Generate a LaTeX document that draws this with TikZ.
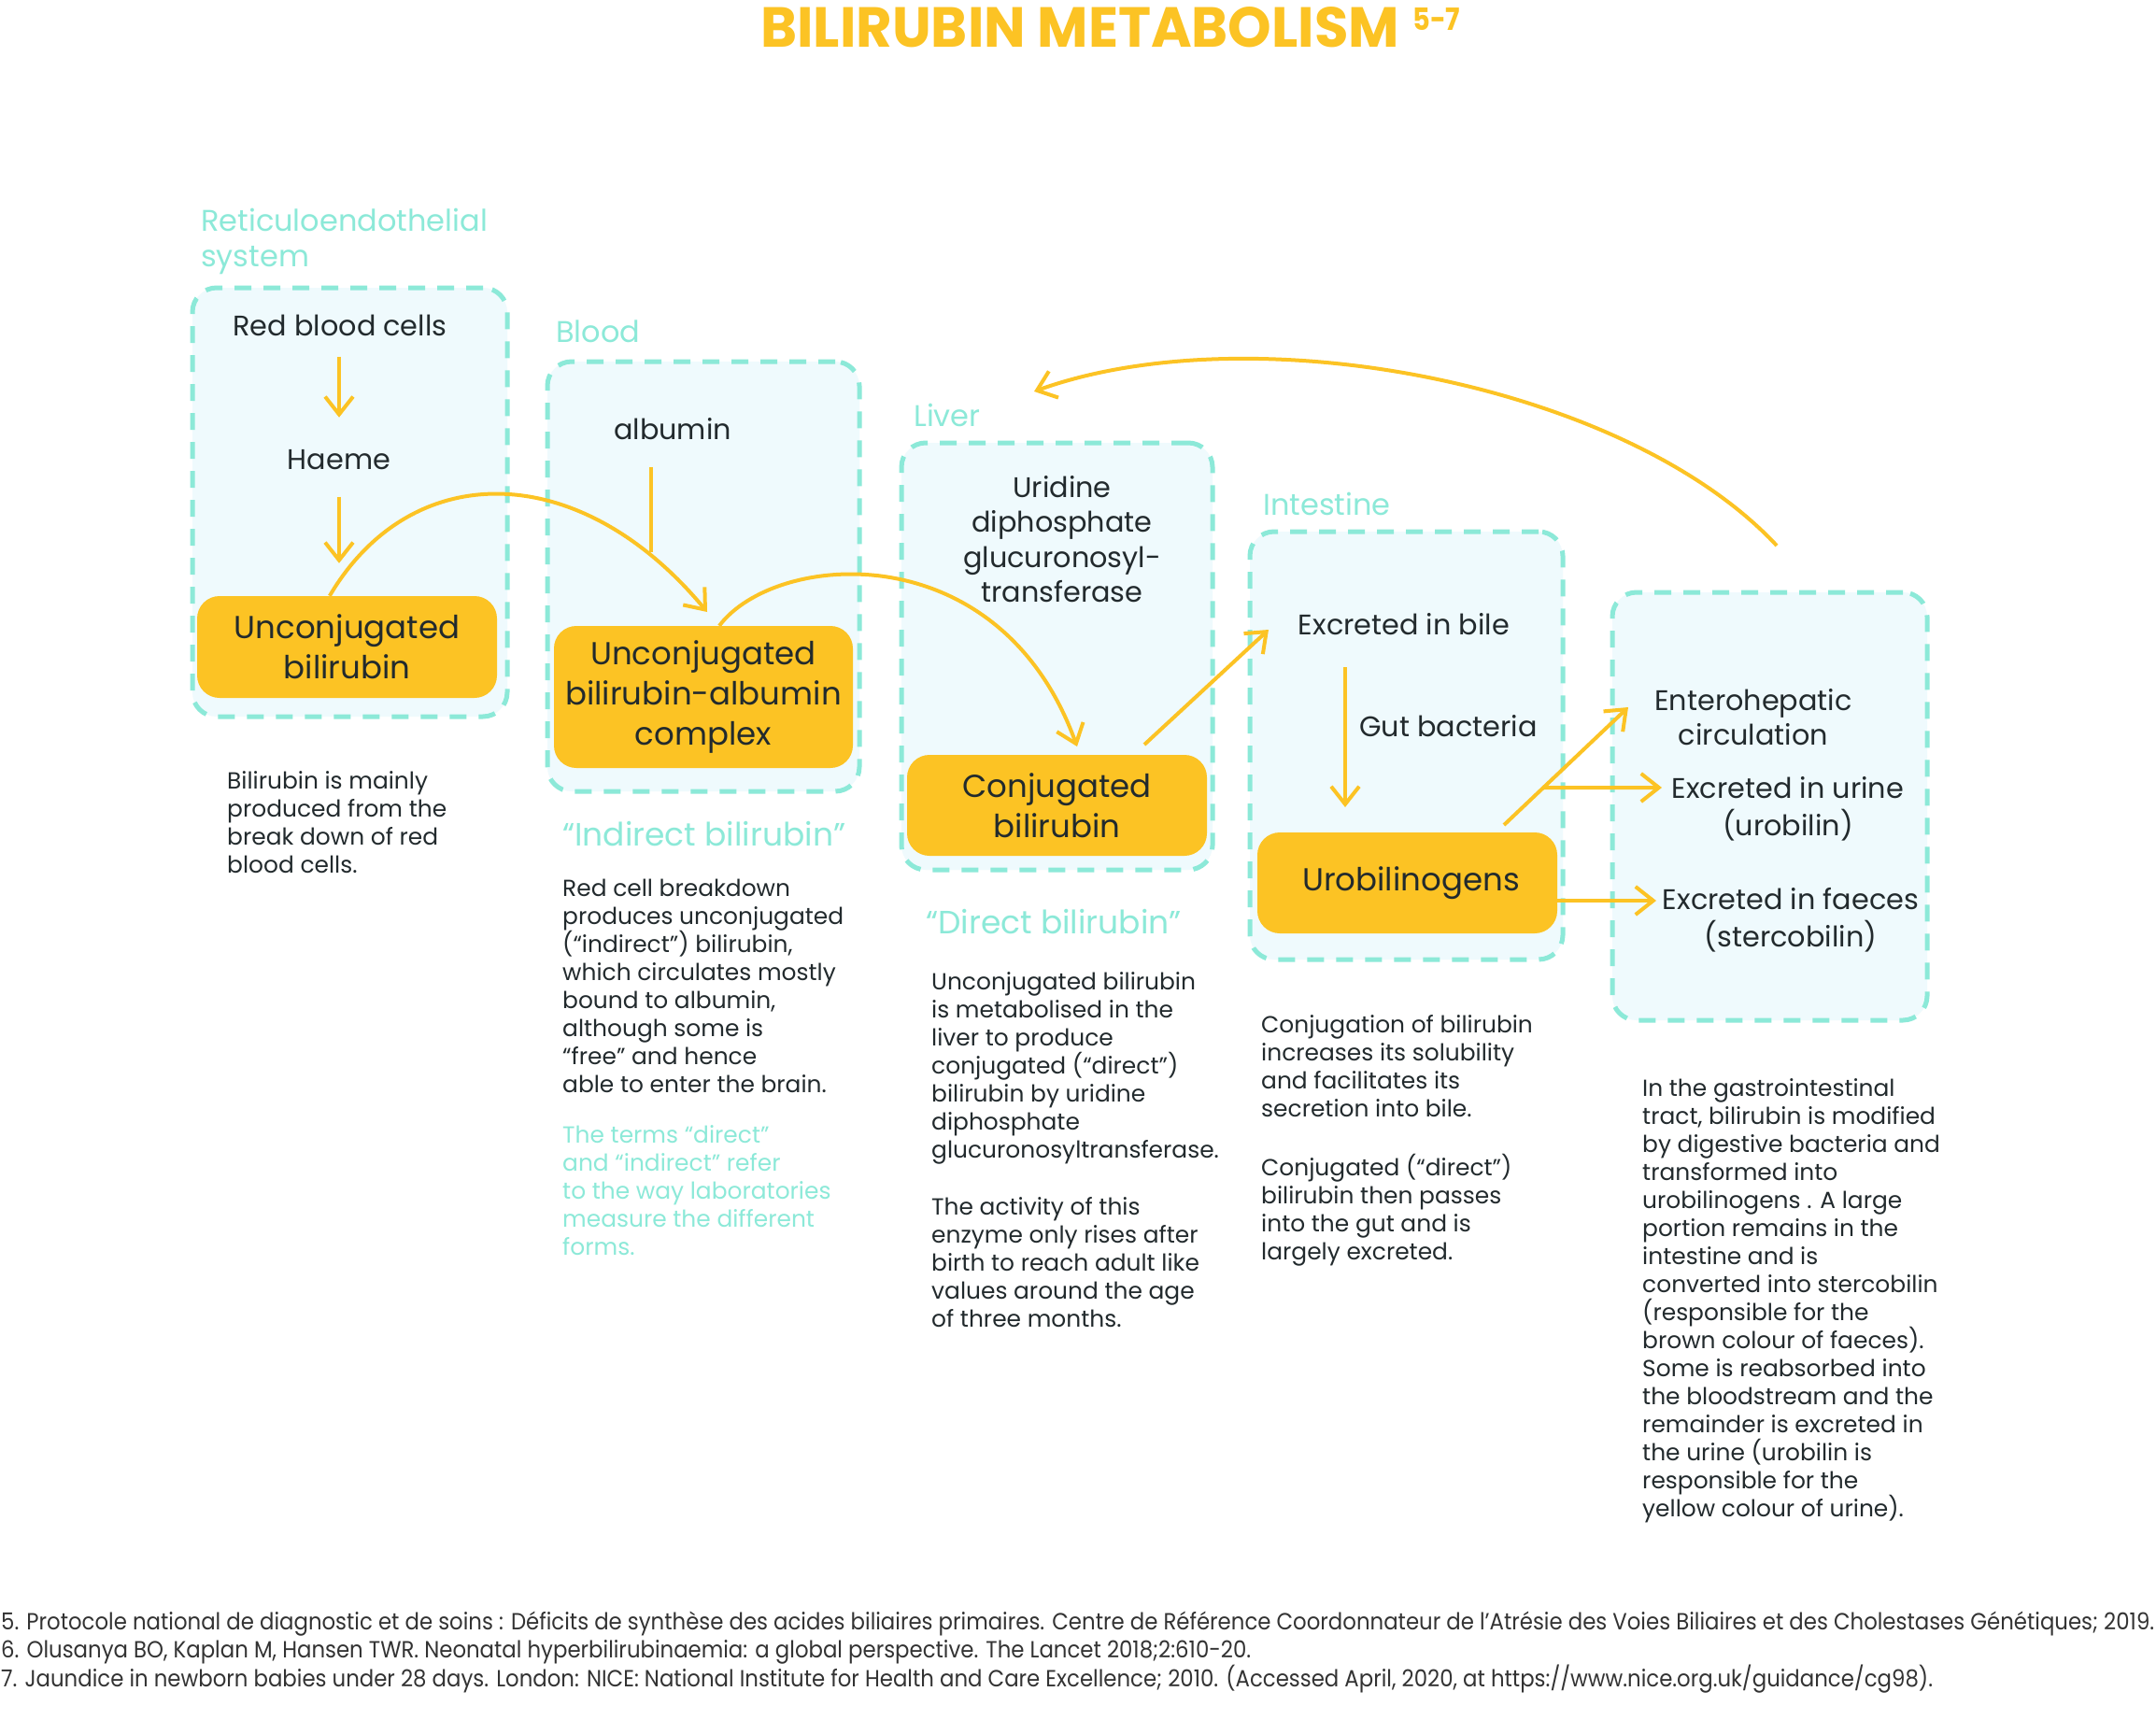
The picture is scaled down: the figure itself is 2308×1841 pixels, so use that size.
\documentclass[tikz,border=0pt]{standalone}
\usepackage{graphicx}
\usepackage{fontspec}
\setmainfont{Poppins}
\usetikzlibrary{arrows.meta,calc}
\definecolor{yel}{HTML}{FCC324}
\definecolor{tealc}{HTML}{8CE9D8}
\definecolor{zonefill}{HTML}{EFFAFD}
\definecolor{ink}{HTML}{222A2D}
\definecolor{fng}{HTML}{333333}
\newcommand\bodyfont{\fontsize{24.9}{30}\selectfont}
\newcommand\inboxfont{\fontsize{30.3}{37.5}\selectfont}
\newcommand\ybfont{\fontsize{34}{43}\selectfont}
\newcommand\lblfont{\fontsize{32}{38}\selectfont}
\newcommand\qfont{\fontsize{34.5}{40}\selectfont}
\newcommand\fnfont{\fontsize{25}{30}\selectfont}
\newcommand\fnfive{5. Protocole national de diagnostic et de soins : Déficits de synthèse des acides biliaires primaires. Centre de Référence Coordonnateur de l’Atrésie des Voies Biliaires et des Cholestases Génétiques; 2019.}
\newsavebox\fnbox
\newlength\fnL
\AtBeginDocument{%
  \sbox\fnbox{\fnfont\fnfive}%
  \setlength\fnL{\wd\fnbox}%
  \pgfmathsetmacro\fnsc{2305pt/\fnL}%
}
\tikzset{
  zone/.style={draw=tealc, line width=5pt, dash pattern=on 18pt off 13pt, fill=zonefill, rounded corners=26pt, inner sep=0pt},
  ybox/.style={fill=yel, rounded corners=24pt, align=center, font=\ybfont, text=ink, inner sep=0pt},
  intext/.style={align=center, font=\inboxfont, text=ink, inner sep=0pt, anchor=north},
  body/.style={align=left, font=\bodyfont, text=ink, inner sep=0pt, anchor=north west},
  lbl/.style={font=\lblfont, text=tealc, inner sep=0pt, anchor=base west},
  quot/.style={font=\qfont, text=tealc, inner sep=0pt, anchor=base west},
  fn/.style={font=\fnfont, text=fng, inner sep=0pt, anchor=base west},
  conn/.style={draw=yel, line width=4pt},
  arr/.style={conn, -{Straight Barb[length=19pt,width=30pt]}},
}
\begin{document}
\begin{tikzpicture}[x=1pt,y=-1pt]
\useasboundingbox[fill=white] (0,0) rectangle (2308,1841);

% title
\node[anchor=base west, inner sep=0pt, text=yel, font=\bfseries] (title) at (814,51) {\resizebox{684pt}{43pt}{BILIRUBIN METABOLISM}};
\node[anchor=base west, inner sep=0pt, text=yel, font=\bfseries] (titlesup) at (1512,33) {\resizebox{51pt}{24pt}{5-7}};

% zones
\node[zone, minimum width=337pt, minimum height=459pt] (z1) at (374.5,537.5) {};
\node[zone, minimum width=334pt, minimum height=460pt] (z2) at (753,617) {};
\node[zone, minimum width=333pt, minimum height=457pt] (z3) at (1131.5,702.5) {};
\node[zone, minimum width=335pt, minimum height=458pt] (z4) at (1505.5,798) {};
\node[zone, minimum width=337pt, minimum height=458pt] (z5) at (1894.5,863) {};

% zone labels
\node[lbl, anchor=north west, align=left] (l1) at (215,220.4) {\strut Reticuloendothelial\\system};
\node[lbl] (l2) at (595,366) {Blood};
\node[lbl] (l3) at (978,456) {Liver};
\node[lbl] (l4) at (1352,551) {Intestine};

% yellow boxes
\node[ybox, minimum width=321pt, minimum height=109pt] (y1) at (371.5,692.5) {Unconjugated\\bilirubin};
\node[ybox, minimum width=320pt, minimum height=152pt] (y2) at (753,746) {Unconjugated\\bilirubin-albumin\\complex};
\node[ybox, minimum width=321pt, minimum height=108pt] (y3) at (1131.5,862) {Conjugated\\bilirubin};
\node[ybox, minimum width=321pt, minimum height=108pt] (y4) at (1506.5,945) {\hspace*{8pt}Urobilinogens};

% texts inside zones
\node[intext] (rbc) at (364,332.75) {\strut Red blood cells};
\node[intext] (haeme) at (363,475.75) {\strut Haeme};
\node[intext] (albumin) at (720,443.75) {\strut albumin};
\node[intext] (udp) at (1137,505.75) {\strut Uridine\\diphosphate\\glucuronosyl-\\transferase};
\node[intext] (bile) at (1503,652.75) {\strut Excreted in bile};
\node[intext, anchor=north west] (gut) at (1455,761.75) {\strut Gut bacteria};
\node[intext] (ent) at (1877,733.75) {\strut Enterohepatic\\circulation};
\node[intext] (urine) at (1914,827.75) {\strut Excreted in urine\\(urobilin)};
\node[intext] (faeces) at (1917,946.75) {\strut Excreted in faeces\\(stercobilin)};

% coordinates for connector ends
\coordinate (c1s) at ($(y1.north west)!0.442!(y1.north east)$);
\coordinate (c1e) at (757,655);
\coordinate (c2s) at ($(y2.north west)!0.553!(y2.north east)$);
\coordinate (c2e) at (1153,799);
\coordinate (c3s) at (1902,584);
\coordinate (c3e) at (1107,419);
\coordinate (alb) at (697,591);
\coordinate (s1s) at (1225,797);
\coordinate (s1e) at (1358,674);
\coordinate (s2s) at (1440,714);
\coordinate (s2e) at (1440,864);
\coordinate (s3s) at (1610,883);
\coordinate (s3e) at (1743,757);
\coordinate (s4s) at ($(s3s)!0.317!(s3e)$);
\coordinate (s4e) at (1779,843);
\coordinate (s5s) at (1667,964);
\coordinate (s5e) at (1773,964);

% connectors
\draw[arr, shorten <=11pt, shorten >=29pt] (rbc.south -| haeme.north) -- (haeme.north);
\draw[arr, shorten <=18pt, shorten >=35pt] (haeme.south) -- (haeme.south |- y1.north);
\draw[conn] (albumin.south -| alb) ++(0,18) -- (alb);
\draw[arr] (c1s) .. controls (440,490) and (620,490) .. (c1e);
\draw[arr] (c2s) .. controls (830,590) and (1070,570) .. (c2e);
\draw[arr] (c3s) .. controls (1740,410) and (1340,335) .. (c3e);
\draw[arr] (s1s) -- (s1e);
\draw[arr] (s2s) -- (s2e);
\draw[arr] (s3s) -- (s3e);
\draw[arr] (s4s) -- (s4e);
\draw[arr] (s5s) -- (s5e);

% quoted labels
\node[quot] (qind) at (602,905) {“Indirect bilirubin”};
\node[quot] (qdir) at (991,999) {“Direct bilirubin”};

% body texts
\node[body] (b1) at (243,823) {\strut Bilirubin is mainly\\produced from the\\break down of red\\blood cells.};
\node[body] (b2) at (602,938) {\strut Red cell breakdown\\produces unconjugated\\(“indirect”) bilirubin,\\which circulates mostly\\bound to albumin,\\although some is\\“free” and hence\\able to enter the brain.};
\node[body, text=tealc] (b2t) at (602,1202) {\strut The terms “direct”\\and “indirect” refer\\to the way laboratories\\measure the different\\forms.};
\node[body] (b3) at (997,1038) {\strut Unconjugated bilirubin\\is metabolised in the\\liver to produce\\conjugated (“direct”)\\bilirubin by uridine\\diphosphate\\glucuronosyltransferase.};
\node[body] (b3b) at (997,1279) {\strut The activity of this\\enzyme only rises after\\birth to reach adult like\\values around the age\\of three months.};
\node[body] (b4) at (1350,1084) {\strut Conjugation of bilirubin\\increases its solubility\\and facilitates its\\secretion into bile.};
\node[body] (b4b) at (1350,1235) {\strut Conjugated (“direct”)\\bilirubin then passes\\into the gut and is\\largely excreted.};
\node[body] (b5) at (1758,1152) {\strut In the gastrointestinal\\tract, bilirubin is modified\\by digestive bacteria and\\transformed into\\urobilinogens . A large\\portion remains in the\\intestine and is\\converted into stercobilin\\(responsible for the\\brown colour of faeces).\\Some is reabsorbed into\\the bloodstream and the\\remainder is excreted in\\the urine (urobilin is\\responsible for the\\yellow colour of urine).};

% footnotes
\node[fn] (f5) at (1,1744) {\scalebox{\fnsc}[1]{\fnfive}};
\node[fn] (f6) at (1,1774) {\scalebox{\fnsc}[1]{6. Olusanya BO, Kaplan M, Hansen TWR. Neonatal hyperbilirubinaemia: a global perspective. The Lancet 2018;2:610-20.}};
\node[fn] (f7) at (1,1805) {\scalebox{\fnsc}[1]{7. Jaundice in newborn babies under 28 days. London: NICE: National Institute for Health and Care Excellence; 2010. (Accessed April, 2020, at https://www.nice.org.uk/guidance/cg98).}};
\end{tikzpicture}
\end{document}
